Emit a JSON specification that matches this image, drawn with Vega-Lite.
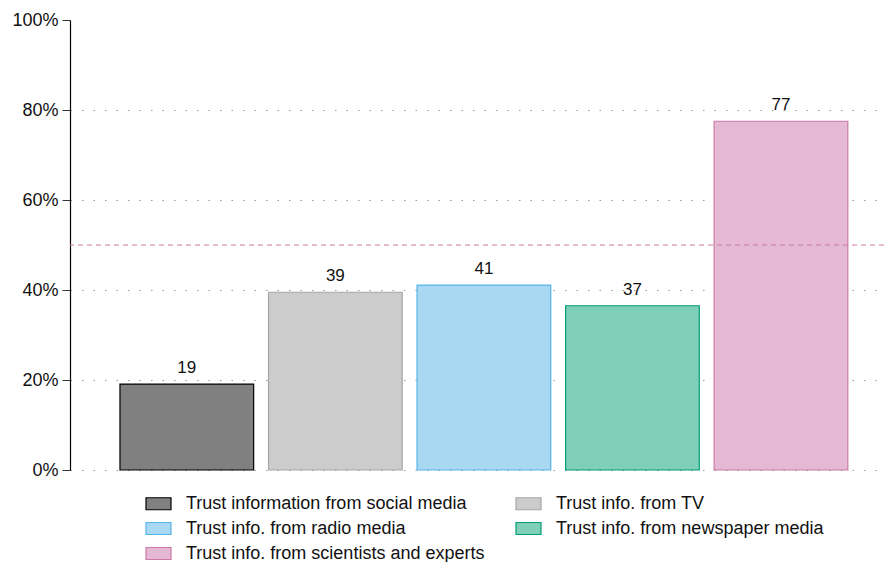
{
  "$schema": "https://vega.github.io/schema/vega-lite/v6.json",
  "width": 814,
  "height": 450,
  "autosize": {"type": "none"},
  "padding": {"left": 70, "top": 20, "right": 0, "bottom": 92},
  "background": "white",
  "config": {
    "view": {"stroke": null},
    "font": "Liberation Sans"
  },
  "data": {
    "values": [
      {"source": "Trust information from social media", "value": 19.1, "label": "19"},
      {"source": "Trust info. from TV", "value": 39.5, "label": "39"},
      {"source": "Trust info. from radio media", "value": 41.1, "label": "41"},
      {"source": "Trust info. from newspaper media", "value": 36.5, "label": "37"},
      {"source": "Trust info. from scientists and experts", "value": 77.5, "label": "77"}
    ]
  },
  "layer": [
    {
      "mark": {"type": "bar", "strokeWidth": 1.2},
      "encoding": {
        "x": {
          "field": "source",
          "type": "nominal",
          "sort": null,
          "scale": {"paddingInner": 0.1, "paddingOuter": 0.29, "align": 0.58},
          "axis": null
        },
        "y": {
          "field": "value",
          "type": "quantitative",
          "scale": {"domain": [0, 100], "nice": false},
          "axis": {
            "values": [0, 20, 40, 60, 80, 100],
            "labelExpr": "datum.value + '%'",
            "title": null,
            "domainColor": "#000000",
            "domainWidth": 1.2,
            "tickColor": "#333333",
            "tickSize": 8,
            "labelPadding": 4,
            "labelFontSize": 18,
            "labelColor": "#111111",
            "grid": true,
            "gridColor": "#999999",
            "gridDash": [1.5, 10],
            "gridWidth": 1.2,
            "gridOpacity": {"condition": {"test": "datum.value >= 100", "value": 0}, "value": 1}
          }
        },
        "fill": {
          "field": "source",
          "type": "nominal",
          "sort": null,
          "scale": {
            "domain": ["Trust information from social media", "Trust info. from radio media", "Trust info. from scientists and experts", "Trust info. from TV", "Trust info. from newspaper media"],
            "range": ["#808080", "#a8d8f2", "#e5b9d3", "#cccccc", "#80cfb8"]
          },
          "legend": {
            "title": null,
            "orient": "none",
            "legendX": 75,
            "legendY": 470,
            "columns": 2,
            "columnPadding": 28,
            "rowPadding": 2,
            "symbolType": "M-1,-0.48H1V0.48H-1Z",
            "symbolSize": 625,
            "symbolStrokeWidth": 1.2,
            "labelFontSize": 18,
            "labelOffset": 14,
            "labelColor": "#111111",
            "labelLimit": 500
          }
        },
        "stroke": {
          "field": "source",
          "type": "nominal",
          "sort": null,
          "scale": {
            "domain": ["Trust information from social media", "Trust info. from radio media", "Trust info. from scientists and experts", "Trust info. from TV", "Trust info. from newspaper media"],
            "range": ["#000000", "#56b4e9", "#cc79a7", "#a6a6a6", "#009e73"]
          },
          "legend": {
            "title": null,
            "orient": "none",
            "legendX": 75,
            "legendY": 470,
            "columns": 2,
            "columnPadding": 28,
            "rowPadding": 2,
            "symbolType": "M-1,-0.48H1V0.48H-1Z",
            "symbolSize": 625,
            "symbolStrokeWidth": 1.2,
            "labelFontSize": 18,
            "labelOffset": 14,
            "labelColor": "#111111",
            "labelLimit": 500
          }
        }
      }
    },
    {
      "mark": {"type": "text", "baseline": "alphabetic", "dy": -11, "fontSize": 17, "color": "#111111"},
      "encoding": {
        "x": {"field": "source", "type": "nominal", "sort": null},
        "y": {"field": "value", "type": "quantitative"},
        "text": {"field": "label"}
      }
    },
    {
      "data": {"values": [{"ref": 50}]},
      "mark": {"type": "rule", "color": "#cc79a7", "strokeDash": [5, 4], "strokeWidth": 1},
      "encoding": {
        "y": {"field": "ref", "type": "quantitative"}
      }
    }
  ]
}
